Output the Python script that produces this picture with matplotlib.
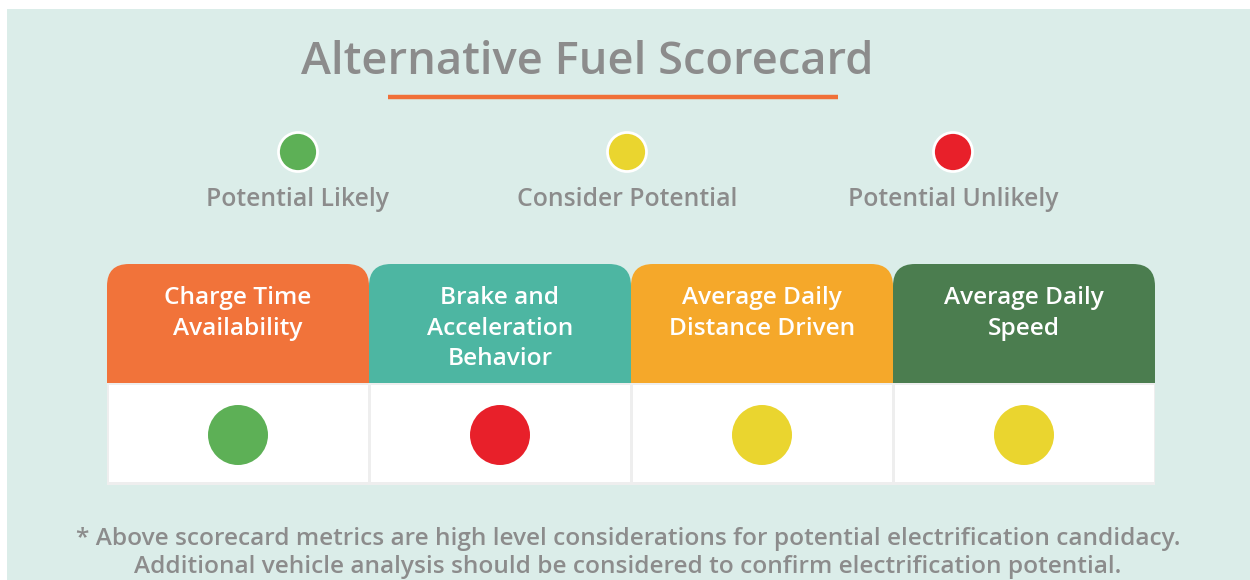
import matplotlib
matplotlib.use("Agg")
import matplotlib.pyplot as plt
from matplotlib.patches import FancyBboxPatch, Rectangle, Circle

title = "Alternative Fuel Scorecard"
legend_labels = ["Potential Likely", "Consider Potential", "Potential Unlikely"]
legend_colors = ["#5DB056", "#EAD52F", "#E8202A"]
categories = ["Charge Time\nAvailability", "Brake and\nAcceleration\nBehavior",
              "Average Daily\nDistance Driven", "Average Daily\nSpeed"]
header_colors = ["#F1733A", "#4DB6A2", "#F5A82A", "#4B7D4F"]
status = ["Potential Likely", "Potential Unlikely", "Consider Potential", "Consider Potential"]
footnote = ("* Above scorecard metrics are high level considerations for potential electrification candidacy.\n"
            "Additional vehicle analysis should be considered to confirm electrification potential.")

plt.rcParams['font.family'] = ['Open Sans', 'DejaVu Sans']
W, H = 1250, 580
fig = plt.figure(figsize=(W / 100, H / 100), dpi=100)
ax = fig.add_axes([0, 0, 1, 1])
ax.set_xlim(0, W)
ax.set_ylim(H, 0)
ax.axis('off')

BG = "#DBEDE9"
GRAY = "#8C8C8C"
ax.add_patch(Rectangle((7, 9), W - 7, H - 9, facecolor=BG, edgecolor='none'))

ax.text(587, 62, title, ha='center', va='center', fontsize=32.6, color=GRAY, fontweight='semibold')
ax.plot([388, 838], [97, 97], color="#F07038", lw=3.2, solid_capstyle='butt')

leg_x = [298, 627, 953]
for x, lab, c in zip(leg_x, legend_labels, legend_colors):
    ax.add_patch(Circle((x, 152), 19.5, facecolor=c, edgecolor='white', lw=2))
    ax.text(x, 199, lab, ha='center', va='center', fontsize=17.8, color=GRAY, fontweight='semibold')

x0, colw = 107, 262
top, hbot, bbot = 264, 383, 484
color_of = dict(zip(legend_labels, legend_colors))
# body background (gray borders)
ax.add_patch(Rectangle((x0, hbot), colw * 4, bbot - hbot + 1, facecolor="#EEEEEE",
                       edgecolor='none', zorder=2))
for i, (cat, hc, st) in enumerate(zip(categories, header_colors, status)):
    left = x0 + i * colw
    ax.add_patch(FancyBboxPatch((left, top), colw, 150,
                                boxstyle="round,pad=0,rounding_size=22",
                                facecolor=hc, edgecolor='none', zorder=1))
    ax.add_patch(Rectangle((left + 2, hbot + 2), colw - 3.5, bbot - hbot - 4,
                           facecolor='white', edgecolor='none', zorder=3))
    ax.text(left + colw / 2, 286, cat, ha='center', va='top', fontsize=17.6,
            color='white', fontweight='semibold', linespacing=1.37, zorder=4)
    ax.add_patch(Circle((left + colw / 2, 435), 30, facecolor=color_of[st],
                        edgecolor='none', zorder=4))

ax.text(628, 553, footnote, ha='center', va='center', fontsize=17.6, color=GRAY,
        fontweight='semibold', linespacing=1.2)

ax.add_patch(Rectangle((0, 0), 7, H, facecolor='white', edgecolor='none', zorder=10))
ax.add_patch(Rectangle((0, 0), W, 9, facecolor='white', edgecolor='none', zorder=10))

fig.savefig("out.png", dpi=100, facecolor='white')
